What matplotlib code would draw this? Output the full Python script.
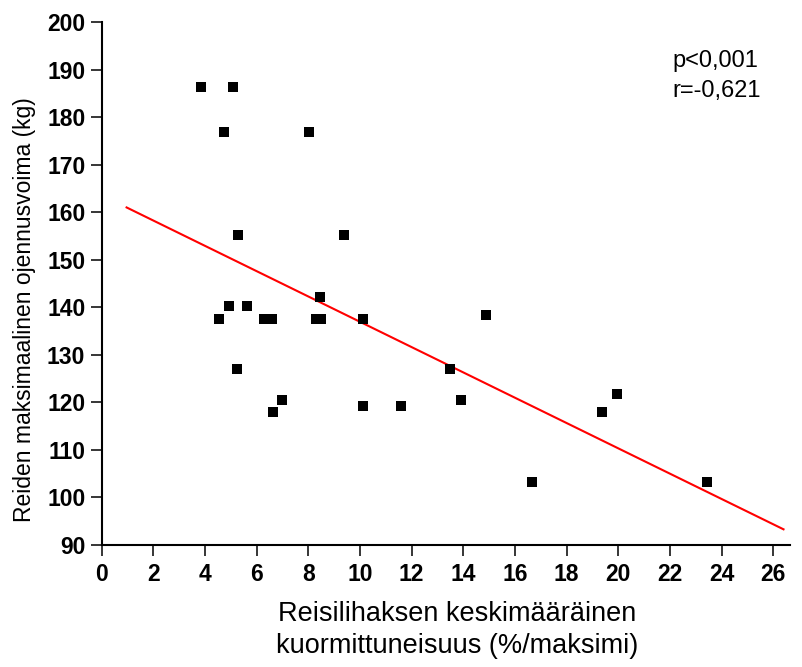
import matplotlib
matplotlib.use("Agg")
import matplotlib.pyplot as plt

plt.rcParams['font.family'] = ['Liberation Sans', 'DejaVu Sans']

# kuormittuneisuus (%/maksimi) and ojennusvoima (kg)
load_pct = [3.85, 5.10, 4.73, 8.03, 5.27, 9.39, 8.46, 4.92, 5.65, 4.56,
            6.29, 6.61, 8.30, 8.50, 10.11, 5.26, 6.98, 6.64, 10.11, 11.60,
            14.89, 13.50, 13.93, 19.96, 19.38, 16.67, 23.45]
strength_kg = [186.4, 186.4, 176.9, 176.9, 155.2, 155.2, 142.2, 140.3, 140.3, 137.5,
               137.5, 137.5, 137.6, 137.6, 137.5, 127.0, 120.5, 118.0, 119.2, 119.2,
               138.4, 127.0, 120.4, 121.8, 118.0, 103.2, 103.2]

# regression line end points
fit_x = [0.97, 26.4]
fit_y = [161.0, 93.3]

x_ticks = list(range(0, 27, 2))
y_ticks = list(range(90, 201, 10))

fig = plt.figure(figsize=(8.02, 6.67), dpi=100)
ax = fig.add_axes([0.1266, 0.1829, 0.8584, 0.7841])

ax.plot(fit_x, fit_y, color='red', linewidth=1.5, zorder=2)
ax.plot(load_pct, strength_kg, linestyle='none', marker='s', markersize=7.7,
        markeredgewidth=0, color='black', zorder=3)

ax.set_xlim(0, 26.65)
ax.set_ylim(90, 200)
ax.set_xticks(x_ticks)
ax.set_yticks(y_ticks)

for side in ['top', 'right']:
    ax.spines[side].set_visible(False)
for side in ['left', 'bottom']:
    ax.spines[side].set_linewidth(1.5)

ax.tick_params(axis='both', direction='out', length=7.7, width=1.1,
               labelsize=16.5)
ax.tick_params(axis='x', pad=5.0)
ax.tick_params(axis='y', pad=4.0)
for lab in ax.get_xticklabels() + ax.get_yticklabels():
    lab.set_fontweight('bold')

ax.set_xlabel('Reisilihaksen keskimääräinen\nkuormittuneisuus (%/maksimi)',
              fontsize=19.5, linespacing=1.3)
ax.set_ylabel('Reiden maksimaalinen ojennusvoima (kg)', fontsize=16.5)
ax.xaxis.set_label_coords(0.516, -0.108)
ax.yaxis.set_label_coords(-0.095, 0.451)

ax.text(22.1, 190.6, 'p<0,001', fontsize=17, va='baseline', ha='left')
ax.text(22.1, 184.3, 'r=-0,621', fontsize=17, va='baseline', ha='left')

fig.savefig('out.png', dpi=100)
